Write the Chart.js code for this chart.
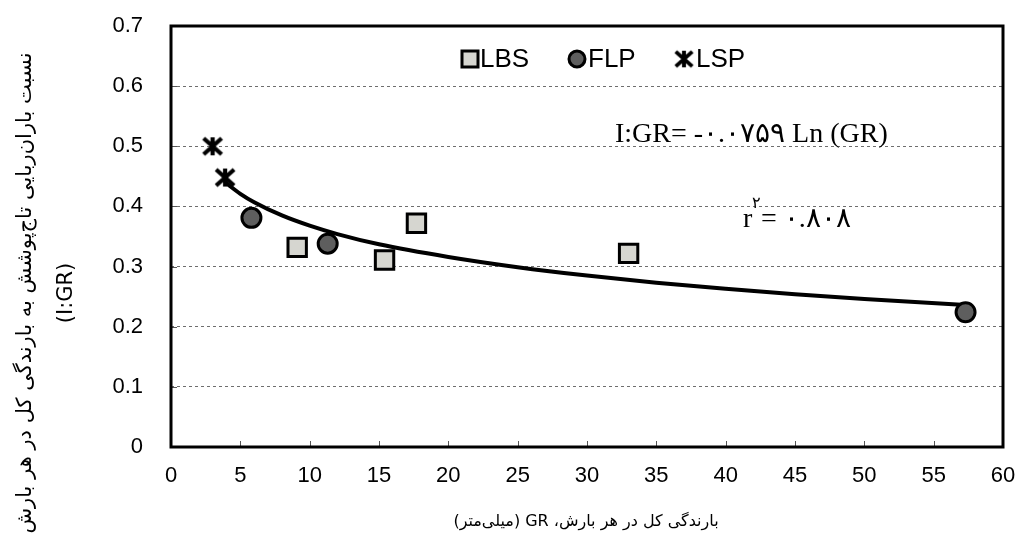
<!DOCTYPE html>
<html>
<head>
<meta charset="utf-8">
<script src="https://cdn.jsdelivr.net/npm/chart.js@4/dist/chart.umd.min.js"></script>
<style>
  html, body { margin: 0; padding: 0; background: #fff; }
  #wrap { width: 1020px; height: 539px; position: relative; }
</style>
</head>
<body>
<div id="wrap"><canvas id="chart" width="1020" height="539"></canvas></div>
<script>
// values
var lbsGR = [9.1, 15.4, 17.7, 33.0];
var lbsIGR = [0.332, 0.311, 0.372, 0.322];
var flpGR = [5.8, 11.3, 57.3];
var flpIGR = [0.381, 0.338, 0.224];
var lspGR = [3.0, 3.9];
var lspIGR = [0.500, 0.448];
// trend curve
var fitGR = [3.9, 5, 6, 8, 10, 12, 15, 20, 25, 30, 35, 40, 45, 50, 57.3];
var fitIGR = [0.440, 0.421, 0.407, 0.385, 0.368, 0.354, 0.337, 0.316, 0.299, 0.285, 0.273, 0.263, 0.254, 0.246, 0.236];

var xTicks = [0, 5, 10, 15, 20, 25, 30, 35, 40, 45, 50, 55, 60];
var yTicks = [0, 0.1, 0.2, 0.3, 0.4, 0.5, 0.6, 0.7];
var seriesNames = ["LBS", "FLP", "LSP"];

var yTitle1 = "نسبت باران‌ربایی تاج‌پوشش به بارندگی کل در هر بارش";
var yTitle2 = "(I:GR)";
var xTitle = "بارندگی کل در هر بارش، GR (میلی‌متر)";
var eqText = "I:GR= -۰.۰۷۵۹ Ln (GR)";
var r2Text = "= ۰.۸۰۸";

var squareFill = "#d6d6d0";
var circleFill = "#5e5e5e";

function pairs(xs, ys) {
  return xs.map(function(x, i) { return { x: x, y: ys[i] }; });
}

function makeStar() {
  var c = document.createElement("canvas");
  c.width = 26; c.height = 26;
  var g = c.getContext("2d");
  g.strokeStyle = "#000";
  g.lineWidth = 4.2;
  g.beginPath();
  g.moveTo(4, 5); g.lineTo(22, 21);
  g.moveTo(4, 21); g.lineTo(22, 5);
  g.moveTo(13, 4); g.lineTo(13, 22);
  g.stroke();
  return c;
}
var starImg = makeStar();

var decor = {
  id: "decor",
  afterDatasetsDraw: function(chart) {
    var ctx = chart.ctx, a = chart.chartArea;
    var xs = chart.scales.x, ys = chart.scales.y;
    ctx.save();
    // inner tick marks
    ctx.strokeStyle = "#555";
    ctx.lineWidth = 1;
    ctx.beginPath();
    xTicks.forEach(function(v) {
      var px = Math.round(xs.getPixelForValue(v)) + 0.5;
      ctx.moveTo(px, a.bottom); ctx.lineTo(px, a.bottom - 6);
    });
    yTicks.forEach(function(v) {
      var py = Math.round(ys.getPixelForValue(v)) + 0.5;
      ctx.moveTo(a.left, py); ctx.lineTo(a.left + 6, py);
    });
    ctx.stroke();
    // frame
    ctx.strokeStyle = "#000";
    ctx.lineWidth = 3;
    ctx.strokeRect(a.left, a.top, a.right - a.left, a.bottom - a.top);
    ctx.restore();
  },
  afterDraw: function(chart) {
    var ctx = chart.ctx;
    ctx.save();
    ctx.fillStyle = "#000";

    // legend
    var ly = 59;
    ctx.font = "26px 'Liberation Sans', Arial, sans-serif";
    ctx.textBaseline = "middle";
    ctx.textAlign = "left";
    ctx.lineWidth = 3;
    ctx.strokeStyle = "#000";
    ctx.fillStyle = squareFill;
    ctx.fillRect(462, ly - 8, 16, 16);
    ctx.strokeRect(462, ly - 8, 16, 16);
    ctx.fillStyle = circleFill;
    ctx.beginPath(); ctx.arc(577, ly, 8, 0, Math.PI * 2); ctx.fill(); ctx.stroke();
    ctx.drawImage(starImg, 684 - 12, ly - 12, 24, 24);
    ctx.fillStyle = "#000";
    ctx.fillText(seriesNames[0], 480, ly + 1);
    ctx.fillText(seriesNames[1], 588, ly + 1);
    ctx.fillText(seriesNames[2], 696, ly + 1);

    // equation and r2
    ctx.textBaseline = "alphabetic";
    ctx.font = "28px 'Liberation Serif', 'Times New Roman', serif";
    ctx.fillText(eqText, 615, 142);
    ctx.fillText("r", 743, 227);
    ctx.font = "16px 'Liberation Serif', serif";
    ctx.fillText("۲", 752, 208);
    ctx.font = "28px 'Liberation Serif', 'Times New Roman', serif";
    ctx.fillText(r2Text, 761, 227);

    // x title (right-to-left paragraph)
    ctx.font = "16px 'DejaVu Sans', sans-serif";
    ctx.textBaseline = "middle";
    ctx.textAlign = "center";
    ctx.direction = "rtl";
    ctx.fillText(xTitle, 586, 522);

    // y title
    ctx.translate(0, 293);
    ctx.rotate(-Math.PI / 2);
    ctx.font = "21px 'DejaVu Sans', sans-serif";
    ctx.fillText(yTitle1, 0, 26);
    ctx.direction = "ltr";
    ctx.fillText(yTitle2, 0, 67);
    ctx.restore();
  }
};

var tickFont = { family: "'Liberation Sans', Arial, sans-serif", size: 22 };

new Chart(document.getElementById("chart"), {
  type: "scatter",
  data: {
    datasets: [
      {
        label: "trend",
        type: "line",
        data: pairs(fitGR, fitIGR),
        borderColor: "#000",
        borderWidth: 4,
        pointRadius: 0,
        fill: false,
        cubicInterpolationMode: "monotone",
        order: 10
      },
      {
        label: seriesNames[0],
        data: pairs(lbsGR, lbsIGR),
        pointStyle: "rect",
        pointRadius: 13,
        backgroundColor: squareFill,
        borderColor: "#000",
        borderWidth: 3,
        order: 1
      },
      {
        label: seriesNames[1],
        data: pairs(flpGR, flpIGR),
        pointStyle: "circle",
        pointRadius: 9.5,
        backgroundColor: circleFill,
        borderColor: "#000",
        borderWidth: 3,
        order: 1
      },
      {
        label: seriesNames[2],
        data: pairs(lspGR, lspIGR),
        pointStyle: starImg,
        order: 1
      }
    ]
  },
  options: {
    responsive: false,
    animation: false,
    events: [],
    layout: { padding: { top: 26, right: 17, left: 0, bottom: 0 } },
    plugins: {
      legend: { display: false },
      tooltip: { enabled: false }
    },
    scales: {
      x: {
        type: "linear",
        min: 0,
        max: 60,
        afterBuildTicks: function(s) { s.ticks = xTicks.map(function(v) { return { value: v }; }); },
        afterFit: function(s) {
          s.height = 92;
          s.paddingLeft = 0; s.paddingRight = 0;
        },
        ticks: { font: tickFont, color: "#000", padding: 16, maxRotation: 0, autoSkip: false },
        grid: { display: false, drawTicks: false },
        border: { display: false }
      },
      y: {
        min: 0,
        max: 0.7,
        afterBuildTicks: function(s) { s.ticks = yTicks.map(function(v) { return { value: v }; }); },
        afterFit: function(s) {
          s.width = 171;
          s.paddingTop = 0; s.paddingBottom = 0;
        },
        ticks: {
          font: tickFont,
          color: "#000",
          padding: 28,
          callback: function(v) { return v === 0 ? "0" : v.toFixed(1); }
        },
        grid: {
          color: "#6e6e6e",
          lineWidth: 1,
          drawTicks: false
        },
        border: { display: false, dash: [3, 3] }
      }
    }
  },
  plugins: [decor]
});
</script>
</body>
</html>
